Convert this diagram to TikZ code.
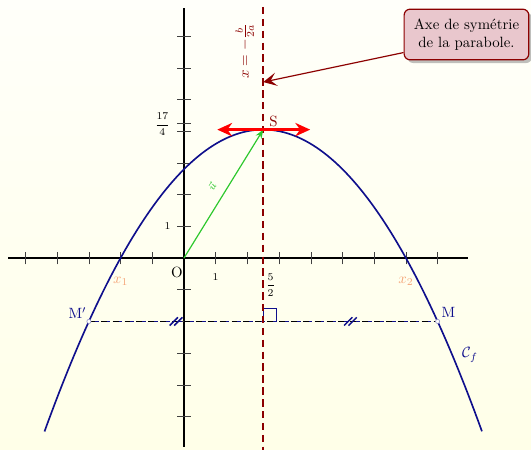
\documentclass[tikz,border=0pt]{standalone}
\usepackage{amsmath,amssymb}
\usepackage{xcolor}
\usepackage{tikz}
\usetikzlibrary{arrows.meta,calc,positioning,shadows}
\definecolor{navyc}{RGB}{15,15,140}
\definecolor{darkred}{RGB}{140,0,0}
\definecolor{peach}{RGB}{245,165,120}
\definecolor{vgreen}{RGB}{45,200,45}
\definecolor{callfill}{RGB}{233,199,205}

\begin{document}
\begin{tikzpicture}[x=0.75cm,y=0.75cm,>=Stealth,
  axe/.style={line width=1.3pt},
  graduation/.style={thin,black!75},
  courbe/.style={navyc,line width=1.1pt},
  lbl/.style={font=\scriptsize,inner sep=0pt},
  pnt/.style={navyc,inner sep=2pt},
  bulle/.style={draw=darkred,thick,rounded corners=4pt,fill=callfill,align=center,inner sep=6.5pt,drop shadow},
  codage/.style={navyc,line width=1pt}]
\fill[top color=yellow!2,bottom color=yellow!9] (-5.804,-6.025) rectangle (10.946,8.139);
\useasboundingbox (-5.804,-6.025) rectangle (10.946,8.139);
\coordinate (O) at (0,0);
\coordinate (S) at (2.5,4.05);
\coordinate (SL) at (1.05,4.05);
\coordinate (SR) at (3.98,4.05);
\coordinate (Mp) at (-3,-2);
\coordinate (M) at (8,-2);
\coordinate (H) at (2.5,-2);
\coordinate (P) at (2.5,5.55);
\coordinate (Dhaut) at (2.5,7.92);
\coordinate (Dbas) at (2.5,-6.1);
\draw[axe] (-5.55,0) -- (8.96,0);
\draw[axe] (0,-5.96) -- (0,7.9);
\foreach \i in {-5,...,-1,1,2,...,8} \draw[graduation] (\i,-0.2) -- (\i,0.2);
\foreach \j in {-5,...,-1,1,2,...,7,4.25} \draw[graduation] (-0.22,\j) -- (0.22,\j);
\draw[black,line width=1pt,dash pattern=on 5.5pt off 2.5pt] (Mp) -- (M);
\draw[navyc,line width=1pt,dash pattern=on 2.5pt off 5.5pt,dash phase=-4pt] (Mp) -- (M);
\foreach \m in {-0.25,5.25} {
  \draw[codage] (\m-0.2,-2.13) -- (\m+0.06,-1.87);
  \draw[codage] (\m-0.06,-2.13) -- (\m+0.2,-1.87);}
\draw[codage] (H) -- ++(0,0.41) -- ++(0.41,0) -- ++(0,-0.41);
\draw[courbe,domain=-4.4:9.4,samples=120] plot (\x,{-0.2*\x*\x+\x+2.8});
\draw[darkred,line width=1.6pt,dash pattern=on 5pt off 3pt] (Dhaut) -- (Dbas);
\draw[vgreen,thick,-{Stealth[length=6pt]}] (O) -- node[sloped,above=3pt,font=\scriptsize] (vu) {$\vec{u}$} (S);
\draw[red,line width=2.2pt,{Stealth[length=10pt,width=9pt]}-{Stealth[length=10pt,width=9pt]}] (SL) -- (SR);
\draw[navyc!45,fill=white] (Mp) circle (1.4pt);
\draw[navyc!45,fill=white] (M) circle (1.4pt);
\node[bulle] (call) at (8.91,7.05) {Axe de symétrie\\de la parabole.};
\draw[darkred,thick,-{Stealth[length=9pt,width=9pt,inset=4pt]}] (call.196) -- (P);
\node[darkred,rotate=90] (axelbl) at (1.92,6.53) {$x=-\frac{b}{2a}$};
\node[darkred,inner sep=0pt] (Slbl) at (2.82,4.3) {S};
\node (Olbl) at (-0.22,-0.45) {O};
\node[lbl] (un) at (1,-0.59) {1};
\node[lbl] (uy) at (-0.52,1) {1};
\node[lbl] (cinq) at (2.73,-0.85) {$\dfrac{5}{2}$};
\node[lbl] (dixsept) at (-0.68,4.22) {$\dfrac{17}{4}$};
\node[peach,inner sep=0pt] (x1) at (-2.0,-0.73) {$x_1$};
\node[peach,inner sep=0pt] (x2) at (7.0,-0.73) {$x_2$};
\node[pnt,above left,inner sep=1.5pt] (lMp) at (Mp) {M$'$};
\node[pnt,above right,inner sep=2.5pt] (lM) at (M) {M};
\node[navyc,inner sep=0pt] (cf) at (9.02,-3.06) {$\mathcal{C}_f$};
\end{tikzpicture}
\end{document}
